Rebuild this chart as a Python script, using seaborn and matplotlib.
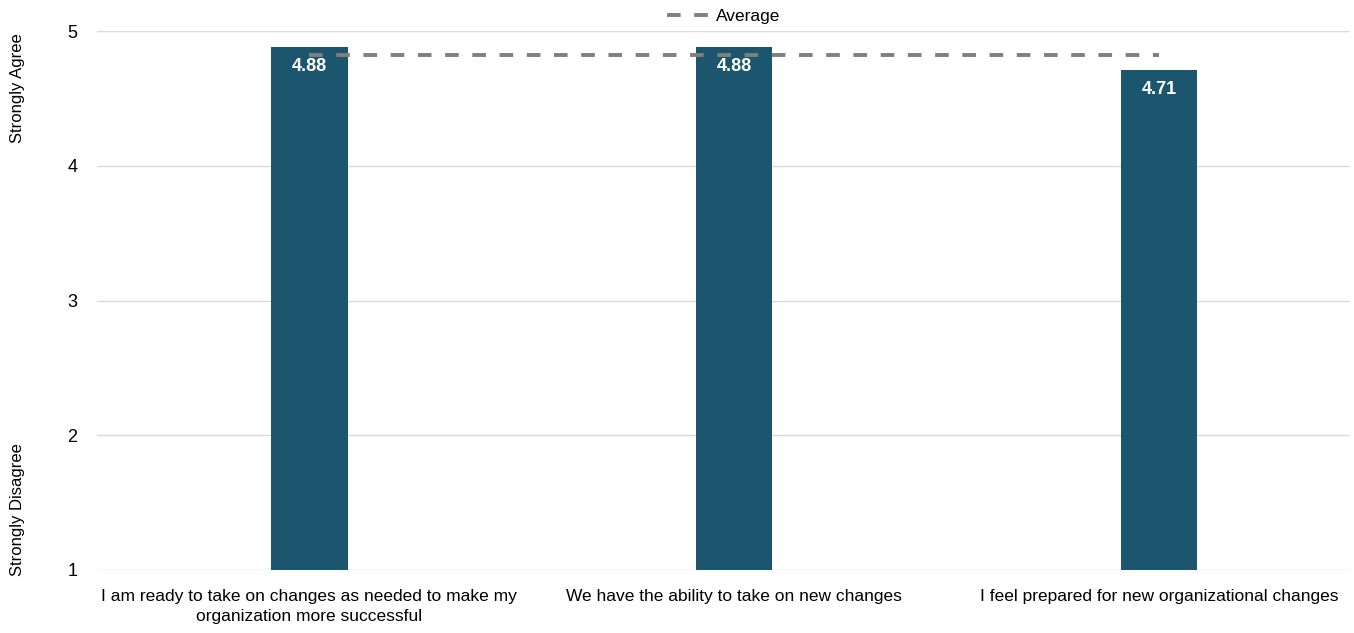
import matplotlib
matplotlib.use("Agg")
import matplotlib.pyplot as plt
import seaborn as sns
import pandas as pd
from matplotlib import font_manager

categories = [
    "I am ready to take on changes as needed to make my\norganization more successful",
    "We have the ability to take on new changes",
    "I feel prepared for new organizational changes",
]
scores = [4.88, 4.88, 4.71]
average = [4.82, 4.82, 4.82]
y_ticks = [1, 2, 3, 4, 5]

sns.set_theme(style="white")
names = {f.name for f in font_manager.fontManager.ttflist}
fam = "Liberation Sans Narrow" if "Liberation Sans Narrow" in names else "Liberation Sans"
plt.rcParams["font.family"] = [fam, "DejaVu Sans"]
plt.rcParams["text.color"] = "black"

df = pd.DataFrame({"q": categories, "score": scores})
fig = plt.figure(figsize=(13.54, 6.33), dpi=100)
ax = fig.add_axes([97 / 1354, 63 / 633, (1350 - 97) / 1354, (570 - 31) / 633])

sns.barplot(data=df, x="q", y="score", color="#1C566E", width=0.18, ax=ax,
            saturation=1)
for p, v in zip(ax.patches, scores):
    p.set_y(1)
    p.set_height(v - 1)
    p.set_edgecolor("none")
    ax.text(p.get_x() + p.get_width() / 2, v - 0.08, f"{v:.2f}", ha="center", va="top",
            color="white", fontsize=13, fontweight="bold")

sns.lineplot(x=[0, 1, 2], y=average, ax=ax, color="#7F7F7F", lw=2.8,
             linestyle=(0, (3.5, 3.5)), label="Average")

ax.set_ylim(1, 5)
ax.set_xlim(-0.5, 2.45)
ax.set_yticks(y_ticks)
ax.set_yticklabels([str(t) for t in y_ticks], fontsize=13)
ax.tick_params(axis="x", labelsize=12.5, length=0, pad=14, labelcolor="black")
ax.tick_params(axis="y", length=0, pad=14, labelcolor="black")
for lbl in ax.get_xticklabels():
    lbl.set_linespacing(1.35)
ax.yaxis.grid(True, color="#D9D9D9", lw=1)
ax.set_axisbelow(True)
for s in ax.spines.values():
    s.set_visible(False)
ax.set_xlabel("")
ax.set_ylabel("")

leg = ax.legend(loc="lower center", bbox_to_anchor=(0.5, 1.0), frameon=False,
                fontsize=12.5, handlelength=2.4, handletextpad=0.4, borderaxespad=0.0,
                labelcolor="black")

fig.text(18 / 1354, 1 - 88 / 633, "Strongly Agree", rotation=90, ha="center", va="center", fontsize=12)
fig.text(18 / 1354, 1 - 510 / 633, "Strongly Disagree", rotation=90, ha="center", va="center", fontsize=12)

fig.savefig("out.png", dpi=100)
